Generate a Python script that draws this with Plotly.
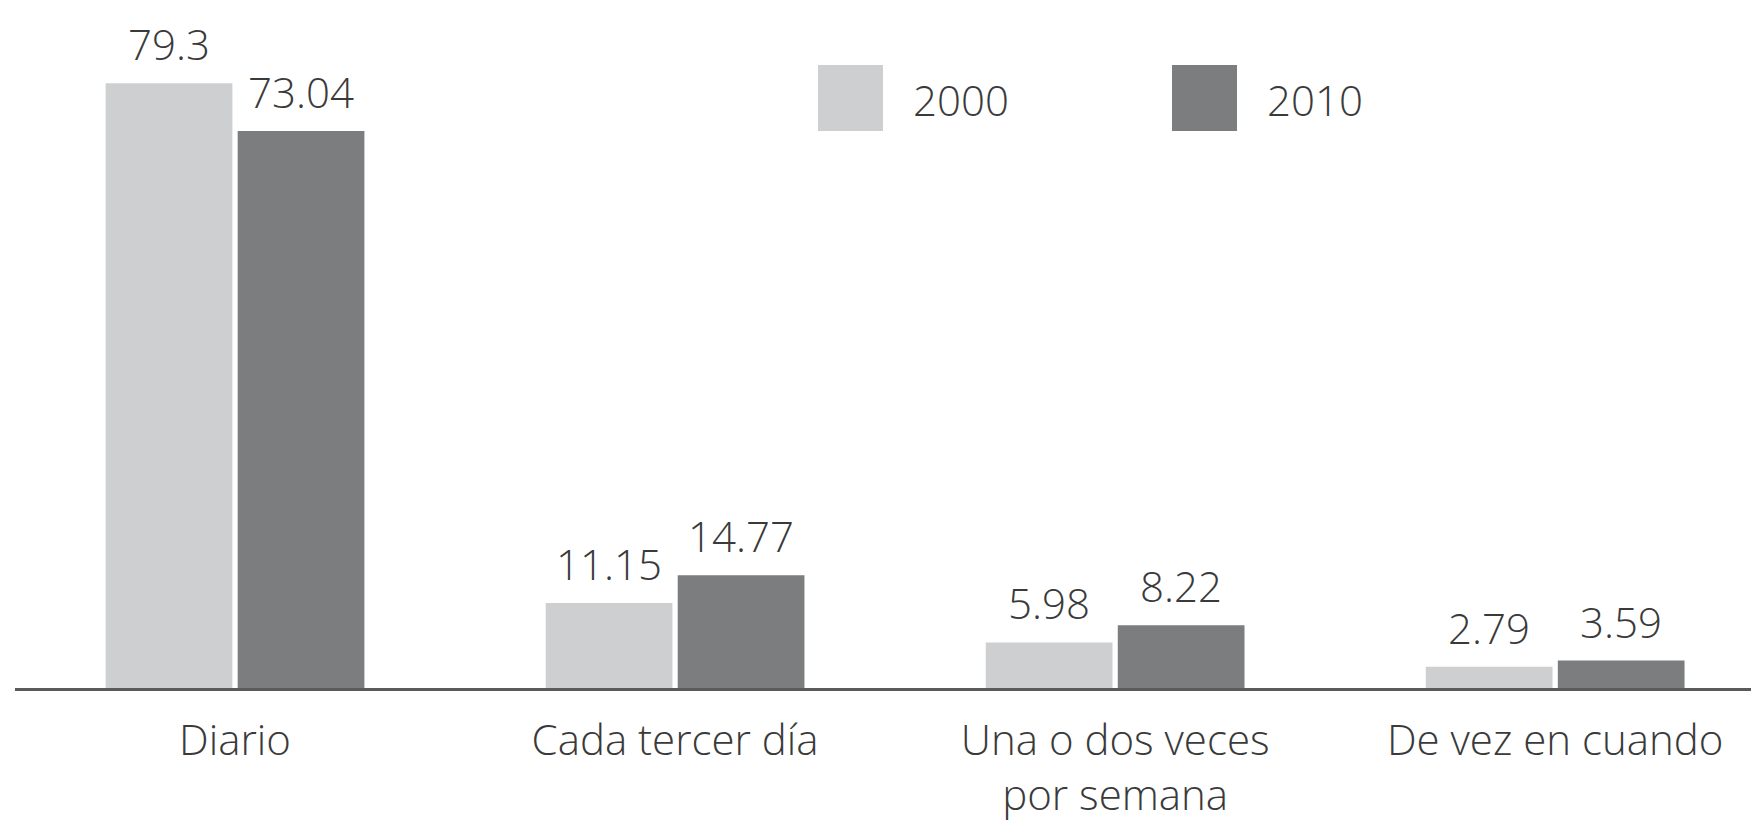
import plotly.graph_objects as go

categories = ["Diario", "Cada tercer día", "Una o dos veces<br>por semana", "De vez en cuando"]
series_names = ["2000", "2010"]
values_2000 = [79.3, 11.15, 5.98, 2.79]
values_2010 = [73.04, 14.77, 8.22, 3.59]
labels_2000 = ["79.3", "11.15", "5.98", "2.79"]
labels_2010 = ["73.04", "14.77", "8.22", "3.59"]

colors = ["#cdcfd0", "#7b7d7f"]
FONT = "Open Sans"
TXT = "#3a3a3a"

W, H = 1751, 822
ML, MR, MT, MB = 15, 0, 0, 134

fig = go.Figure()
for name, vals, col in zip(series_names, [values_2000, values_2010], colors):
    fig.add_trace(go.Bar(x=categories, y=vals, name=name, marker=dict(color=col, line=dict(width=0)),
                         showlegend=False, hoverinfo="skip"))

# value labels
slot_px = 66
for vals, labs, sign in [(values_2000, labels_2000, -1), (values_2010, labels_2010, 1)]:
    for c, v, t in zip(categories, vals, labs):
        fig.add_annotation(x=c, y=v, text=t, showarrow=False, xshift=sign * slot_px,
                           yanchor="bottom", yshift=9,
                           font=dict(family=FONT, size=42, color=TXT, weight=300))

# custom legend
pw = W - ML - MR
ph = H - MT - MB
def px(x):
    return (x - ML) / pw
def py(y):
    return 1 - (y - MT) / ph

legend_boxes = [(818, 883), (1172, 1237)]
legend_text_x = [911, 1265]
for name, col, (x0, x1), tx in zip(series_names, colors, legend_boxes, legend_text_x):
    fig.add_shape(type="rect", xref="paper", yref="paper", x0=px(x0), x1=px(x1), y0=py(131), y1=py(65),
                  fillcolor=col, line=dict(width=0))
    fig.add_annotation(xref="paper", yref="paper", x=px(tx), y=py(99), xanchor="left", yanchor="middle",
                       text=name, showarrow=False,
                       font=dict(family=FONT, size=42, color=TXT, weight=300))

fig.update_layout(
    width=W, height=H,
    margin=dict(l=ML, r=MR, t=MT, b=MB, pad=0, autoexpand=False),
    paper_bgcolor="white", plot_bgcolor="white",
    barmode="group", bargap=0.4, bargroupgap=0.04,
    xaxis=dict(range=[-0.5, 3.445], showline=True, linecolor="#5a5a5a", linewidth=3,
               showgrid=False, ticks="", ticklabelstandoff=14, automargin=False,
               tickfont=dict(family=FONT, size=42, color=TXT, weight=300)),
    yaxis=dict(range=[0, 90.2], visible=False, showgrid=False, zeroline=False, automargin=False),
)

fig.write_html("out.html", config={"displayModeBar": False},
               post_script="document.body.style.margin='0px';")
